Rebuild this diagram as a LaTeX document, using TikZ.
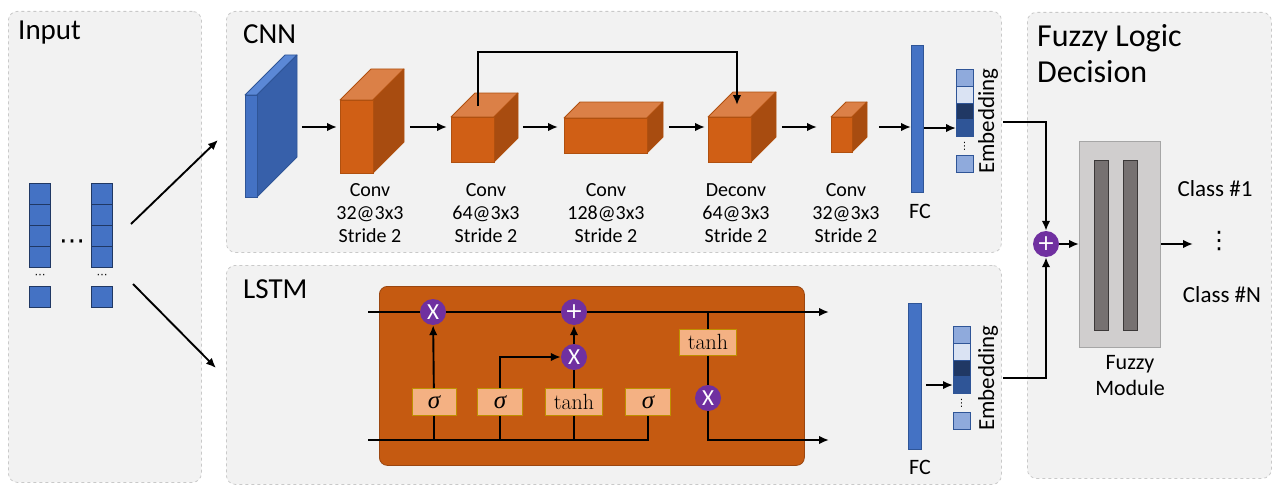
\documentclass[tikz,border=0pt]{standalone}
\usepackage{fontspec}
\setsansfont{Carlito}
\newfontfamily\symfont{DejaVu Sans}
\newfontfamily\greekfont{Liberation Serif}
\usetikzlibrary{arrows.meta,calc}

\definecolor{panelfill}{HTML}{F2F2F2}
\definecolor{panelline}{HTML}{C9C9C9}
\definecolor{blueA}{HTML}{4472C4}
\definecolor{blueB}{HTML}{2F5597}
\definecolor{blueS}{HTML}{3760AA}
\definecolor{blueC}{HTML}{5B88D6}
\definecolor{blueD}{HTML}{203864}
\definecolor{blueL}{HTML}{8FAADC}
\definecolor{blueXL}{HTML}{DAE3F3}
\definecolor{orFront}{HTML}{D05F15}
\definecolor{orTop}{HTML}{DB8047}
\definecolor{orSide}{HTML}{A84C10}
\definecolor{orEdge}{HTML}{B0500F}
\definecolor{cellFill}{HTML}{C55A11}
\definecolor{cellEdge}{HTML}{9A4610}
\definecolor{gateFill}{HTML}{F4B183}
\definecolor{gateEdge}{HTML}{BF9000}
\definecolor{opPurple}{HTML}{7030A0}
\definecolor{fzOuter}{HTML}{D0CECE}
\definecolor{fzOuterEdge}{HTML}{A6A6A6}
\definecolor{fzBar}{HTML}{767171}
\definecolor{fzBarEdge}{HTML}{3B3838}

% front face of a cuboid as a named node, top and side faces attached to it
% #1 name, #2 x, #3 y (top-left of front face), #4 width, #5 height, #6 depth, #7 prefix of colours
\newcommand\cuboid[7]{%
  \fill[#7Top, draw=#7Edge, line width=0.8pt, line join=round]
    (#2,#3) -- ++(#6,-#6) -- ++(#4,0) -- ++(-#6,#6) -- cycle;
  \fill[#7Side, draw=#7Edge, line width=0.8pt, line join=round]
    (#2+#4,#3) -- ++(#6,-#6) -- ++(0,#5) -- ++(-#6,#6) -- cycle;
  \node[draw=#7Edge, fill=#7Front, line width=0.8pt, inner sep=0pt, anchor=north west,
        minimum width=#4, minimum height=#5] (#1) at (#2,#3) {};
}
\colorlet{slabTop}{blueC}
\colorlet{slabSide}{blueS}
\colorlet{slabFront}{blueA}
\colorlet{slabEdge}{blueB}
\colorlet{boxTop}{orTop}
\colorlet{boxSide}{orSide}
\colorlet{boxFront}{orFront}
\colorlet{boxEdge}{orEdge}

\newcommand\sig{{\greekfont\itshape\fontsize{25}{25}\selectfont σ}}
\newcommand\plusop{{\symfont\fontsize{22}{22}\selectfont +}}

\begin{document}
\begin{tikzpicture}[x=1pt,y=-1pt,font=\sffamily,
  panel/.style={draw=panelline, dashed, fill=panelfill, rounded corners=9pt,
                line width=0.8pt, anchor=north west, inner sep=0pt},
  title/.style={anchor=base west, font=\sffamily\fontsize{29}{30}\selectfont, inner sep=0pt},
  ar/.style={-{Latex[length=10pt,width=8.5pt]}, line width=1.9pt},
  ln/.style={line width=1.9pt},
  insq/.style={draw=blueD, fill=blueA, line width=0.8pt, minimum width=21, minimum height=21,
               inner sep=0pt, anchor=north west},
  emsq/.style={draw=blueB, line width=0.8pt, minimum width=17, minimum height=17,
               inner sep=0pt, anchor=north west},
  fcbar/.style={draw=blueB, fill=blueA, line width=0.8pt, inner sep=0pt, anchor=north west},
  lbl/.style={align=center, font=\sffamily\fontsize{20}{23}\selectfont, inner sep=0pt},
  op/.style={circle, fill=opPurple, minimum size=26, inner sep=0pt, text=white,
             font=\sffamily\fontsize{23}{23}\selectfont},
  gate/.style={draw=gateEdge, fill=gateFill, line width=1pt, minimum height=27, inner sep=0pt,
               font=\rmfamily\fontsize{22}{22}\selectfont},
  embl/.style={rotate=90, font=\sffamily\fontsize{23}{23}\selectfont, inner sep=0pt},
  dots/.style={font=\symfont\fontsize{#1}{#1}\selectfont, inner sep=0pt},
]
\useasboundingbox (0,0) rectangle (1277,487);

% ---------- panels ----------
\node[panel, minimum width=193, minimum height=471] (pin)  at (8,11) {};
\node[panel, minimum width=775, minimum height=241] (pcnn) at (226,11) {};
\node[panel, minimum width=775, minimum height=219] (plstm) at (226,265) {};
\node[panel, minimum width=244, minimum height=466] (pfz)  at (1027,12) {};

\node[title] (tin)   at (18,40)  {Input};
\node[title] (tcnn)  at (243,44) {CNN};
\node[title] (tlstm) at (243,298) {LSTM};
\node[title, font=\sffamily\fontsize{32}{32}\selectfont] (tfz1) at (1037,47) {Fuzzy Logic};
\node[title, font=\sffamily\fontsize{32}{32}\selectfont] (tfz2) at (1037,82) {Decision};

% ---------- input sequences ----------
\foreach \c/\x in {a/29,b/91}{
  \foreach \i in {1,...,4}{
    \node[insq] (in\c\i) at (\x,{183+21*(\i-1)}) {};
  }
  \node[insq] (in\c5) at (\x,286) {};
  \node[dots=11] (ind\c) at (\x+11,276) {⋯};
}
\node[dots=26] (indots) at (72,245) {⋯};

\coordinate (inUp0) at (131,224);
\coordinate (inUp1) at (218,140);
\coordinate (inDn0) at (133,284);
\coordinate (inDn1) at (216,368);
\draw[ar] (inUp0) -- (inUp1);
\draw[ar] (inDn0) -- (inDn1);

% ---------- CNN ----------
\cuboid{slab}{245}{95}{12}{102}{40}{slab}
\cuboid{c1}{340}{100}{33}{73}{31}{box}
\cuboid{c2}{451}{117}{43}{45}{24}{box}
\cuboid{c3}{564}{118}{83}{35}{16}{box}
\cuboid{c4}{708}{117}{43}{45}{25}{box}
\cuboid{c5}{831}{117}{21}{35}{15}{box}

\node[fcbar, minimum width=12, minimum height=147] (fc1) at (911,45) {};

\foreach \i/\col in {1/blueL,2/blueXL,3/blueD,4/blueB}{
  \node[emsq, fill=\col, minimum height=16.75] (ea\i) at (956,{69+16.75*(\i-1)}) {};
}
\node[emsq, fill=blueL] (ea5) at (956,155) {};
\node[dots=10] (eadots) at (964.5,146) {⋮};
\node[embl] (ealbl) at (988,121) {Embedding};

\coordinate (cnnrow) at (0,127);
\draw[ar] ([xshift=44pt]slab.east |- cnnrow) -- ([xshift=-3pt]c1.west |- cnnrow);
\draw[ar] ([xshift=36pt]c1.east |- cnnrow)   -- ([xshift=-4pt]c2.west |- cnnrow);
\draw[ar] ([xshift=28pt]c2.east |- cnnrow)   -- ([xshift=-6pt]c3.west |- cnnrow);
\draw[ar] ([xshift=21pt]c3.east |- cnnrow)   -- ([xshift=-3pt]c4.west |- cnnrow);
\draw[ar] ([xshift=30pt]c4.east |- cnnrow)   -- ([xshift=-14pt]c5.west |- cnnrow);
\draw[ar] ([xshift=26pt]c5.east |- cnnrow)   -- (fc1.west |- cnnrow);
\draw[ar] (fc1.east |- ea4) -- (ea4.west);

% skip connection from the second block into the deconvolution block
\draw[ar] ([shift={(27pt,11pt)}]c2.north west) -- ++(0,-54)
          -| ([shift={(29pt,12pt)}]c4.north west);

\node[lbl] (l1) at (370,213) {Conv\\32@3x3\\Stride 2};
\node[lbl] (l2) at (486,213) {Conv\\64@3x3\\Stride 2};
\node[lbl] (l3) at (606,213) {Conv\\128@3x3\\Stride 2};
\node[lbl] (l4) at (736,213) {Deconv\\64@3x3\\Stride 2};
\node[lbl] (l5) at (846,213) {Conv\\32@3x3\\Stride 2};
\node[lbl, font=\sffamily\fontsize{22}{22}\selectfont] (fc1lbl) at (920,211) {FC};

% ---------- LSTM cell ----------
\node[draw=cellEdge, fill=cellFill, rounded corners=8pt, line width=0.8pt, anchor=north west,
      minimum width=425, minimum height=179, inner sep=0pt] (cell) at (379,286) {};

\coordinate (cin)  at (368,312);
\coordinate (cout) at (829,312);
\coordinate (hin)  at (368,440);
\coordinate (hout) at (829,440);

\node[gate, minimum width=44] (g1) at (434,402) {\sig};
\node[gate, minimum width=45] (g2) at (500,402) {\sig};
\node[gate, minimum width=57] (g3) at (574,402) {tanh};
\node[gate, minimum width=45] (g4) at (648,402) {\sig};
\node[gate, minimum width=57, minimum height=26] (gt) at (708,342) {tanh};

\draw[ln] (cin) -- (433,312) coordinate (mx1c);
\draw[ln] (hin) -| (g4.south);
\foreach \g in {g1,g2,g3}{ \draw[ln] (\g.south) -- (\g.south |- hin); }
\draw[ln] (gt.north |- cin) -- (gt.north);

\node[op] (mx1)  at (mx1c) {X};
\node[op] (add1) at (574,312) {\plusop};
\node[op] (mx2)  at (574,357) {X};
\node[op] (mx3)  at (708,398) {X};

\draw[ln] (mx1) -- (add1);
\draw[ar] (add1) -- (cout);
\draw[ar] (g1) -- (mx1);
\draw[ar] (g2.north) |- (mx2);
\draw[ln] (g3) -- (mx2);
\draw[ar] (mx2) -- (add1);
\draw[ln] (gt) -- (mx3);
\draw[ar] (mx3) |- (hout);

% ---------- LSTM head ----------
\node[fcbar, minimum width=13, minimum height=146] (fc2) at (908,303) {};
\foreach \i/\col in {1/blueL,2/blueXL,3/blueD,4/blueB}{
  \node[emsq, fill=\col, minimum height=16.75] (eb\i) at (953,{326+16.75*(\i-1)}) {};
}
\node[emsq, fill=blueL] (eb5) at (953,412) {};
\node[dots=10] (ebdots) at (961.5,403) {⋮};
\node[embl] (eblbl) at (988,378) {Embedding};
\draw[ar] ([xshift=4pt]fc2.east |- eb4) -- (eb4.west);
\node[lbl, font=\sffamily\fontsize{22}{22}\selectfont] (fc2lbl) at (920,467) {FC};

% ---------- fuzzy decision ----------
\node[op] (fplus) at (1046,244) {\plusop};
\coordinate (cnnout)  at (1003,122);
\coordinate (lstmout) at (1003,378);
\draw[ar] (cnnout) -| (fplus);
\draw[ar] (lstmout) -| (fplus);

\node[draw=fzOuterEdge, fill=fzOuter, line width=1pt, anchor=north west, inner sep=0pt,
      minimum width=81, minimum height=206] (fm) at (1079,141) {};
\node[draw=fzBarEdge, fill=fzBar, line width=1pt, inner sep=0pt,
      minimum width=14, minimum height=170] (fb1) at (1101,245) {};
\node[draw=fzBarEdge, fill=fzBar, line width=1pt, inner sep=0pt,
      minimum width=14, minimum height=170] (fb2) at (1130,245) {};
\draw[ar] (fplus) -- (fm.west |- fplus);

\coordinate (clsout) at (1193,244);
\draw[ar] (fm.east |- fplus) -- (clsout);

\node[lbl, font=\sffamily\fontsize{22}{26}\selectfont] (fmlbl) at (1130,376) {Fuzzy\\Module};
\node[lbl, font=\sffamily\fontsize{23}{23}\selectfont] (cls1) at (1215,189) {Class \#1};
\node[dots=24] (clsdots) at (1219,241) {⋮};
\node[lbl, font=\sffamily\fontsize{23}{23}\selectfont] (clsN) at (1222,295) {Class \#N};
\end{tikzpicture}
\end{document}
